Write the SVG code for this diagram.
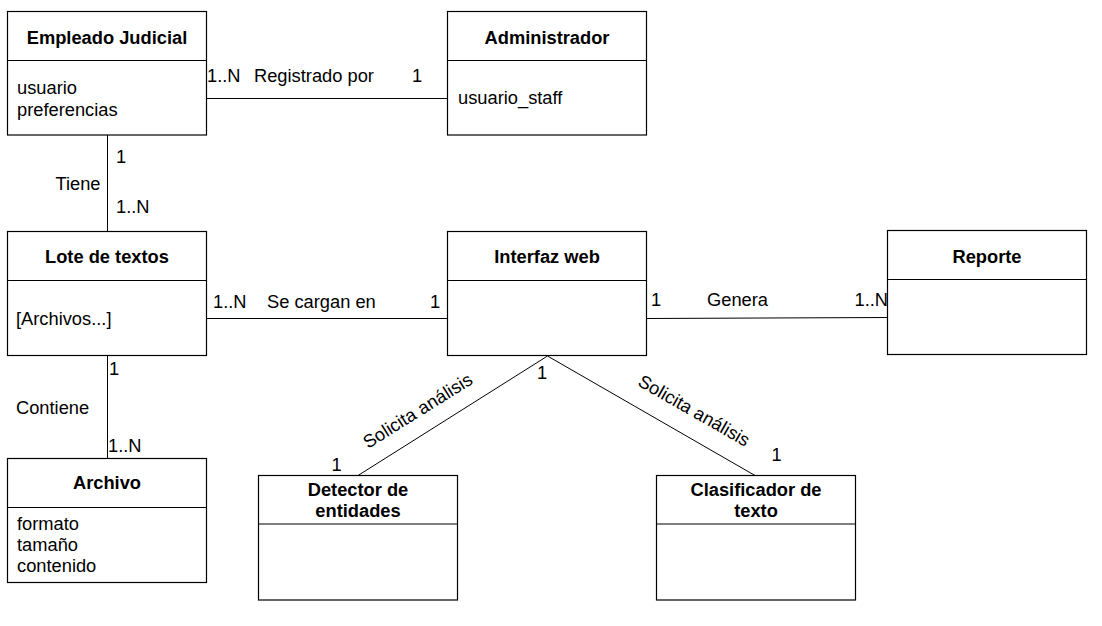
<svg xmlns="http://www.w3.org/2000/svg" width="1102" height="626" viewBox="0 0 1102 626">
<style>
.box{fill:#fff;stroke:#000;stroke-width:1.2}
.div{stroke:#000;stroke-width:1.2}
.conn line{stroke:#000;stroke-width:1}
text{font-family:"Liberation Sans",Arial,sans-serif;font-size:18.3px;fill:#000}
.h{font-weight:bold;text-anchor:middle}
.m{text-anchor:middle}
</style>
<rect width="1102" height="626" fill="#fff"/>
<g id="connectors" class="conn">
<line x1="206.5" y1="98.5" x2="447.5" y2="98.5"/>
<line x1="107.5" y1="135" x2="107.5" y2="231.5"/>
<line x1="206.5" y1="318.5" x2="447.5" y2="318.5"/>
<line x1="647" y1="318.5" x2="887.5" y2="317.5"/>
<line x1="107.5" y1="355.5" x2="107.5" y2="458.5"/>
<line x1="547.5" y1="356" x2="358" y2="475.5"/>
<line x1="547.5" y1="356" x2="755" y2="475.5"/>
</g>
<g id="labels">
<text x="207" y="82">1..N</text>
<text x="254" y="82">Registrado por</text>
<text x="412" y="82">1</text>
<text x="116" y="163">1</text>
<text x="100.5" y="190" text-anchor="end">Tiene</text>
<text x="116" y="213">1..N</text>
<text x="213" y="308">1..N</text>
<text x="267" y="308">Se cargan en</text>
<text x="430" y="308">1</text>
<text x="651" y="306">1</text>
<text x="707" y="306">Genera</text>
<text x="888" y="306" text-anchor="end">1..N</text>
<text x="109" y="375">1</text>
<text x="16" y="413.5">Contiene</text>
<text x="108" y="452">1..N</text>
<text x="537" y="378.5">1</text>
<text x="331.5" y="471">1</text>
<text x="771.5" y="461">1</text>
<text class="m" transform="translate(421,416) rotate(-32)">Solicita análisis</text>
<text class="m" transform="translate(691,416) rotate(29.7)">Solicita análisis</text>
</g>
<g id="empleado">
<rect class="box" x="7.5" y="11.5" width="199" height="123.5"/>
<line class="div" x1="7.5" y1="60.5" x2="206.5" y2="60.5"/>
<text class="h" x="107" y="43.5">Empleado Judicial</text>
<text x="17" y="94">usuario</text>
<text x="17" y="115.5">preferencias</text>
</g>
<g id="administrador">
<rect class="box" x="447.5" y="11.5" width="199" height="123.5"/>
<line class="div" x1="447.5" y1="60.5" x2="646.5" y2="60.5"/>
<text class="h" x="547" y="43.5">Administrador</text>
<text x="458" y="104">usuario_staff</text>
</g>
<g id="lote">
<rect class="box" x="7.5" y="231.5" width="199" height="124"/>
<line class="div" x1="7.5" y1="280.5" x2="206.5" y2="280.5"/>
<text class="h" x="107" y="263">Lote de textos</text>
<text x="16" y="324.5">[Archivos...]</text>
</g>
<g id="interfaz">
<rect class="box" x="447.5" y="231.5" width="199" height="124"/>
<line class="div" x1="447.5" y1="280.5" x2="646.5" y2="280.5"/>
<text class="h" x="547" y="263">Interfaz web</text>
</g>
<g id="reporte">
<rect class="box" x="887.5" y="230.5" width="199" height="124"/>
<line class="div" x1="887.5" y1="279.5" x2="1086.5" y2="279.5"/>
<text class="h" x="987" y="262.5">Reporte</text>
</g>
<g id="archivo">
<rect class="box" x="7.5" y="458.5" width="199" height="124"/>
<line class="div" x1="7.5" y1="507.5" x2="206.5" y2="507.5"/>
<text class="h" x="107" y="489">Archivo</text>
<text x="17" y="530">formato</text>
<text x="17" y="551">tamaño</text>
<text x="17" y="572">contenido</text>
</g>
<g id="detector">
<rect class="box" x="258.5" y="475.5" width="199" height="124.5"/>
<line class="div" x1="258.5" y1="524" x2="457.5" y2="524"/>
<text class="h" x="358" y="495.5">Detector de</text>
<text class="h" x="358" y="517">entidades</text>
</g>
<g id="clasificador">
<rect class="box" x="656.5" y="475.5" width="199" height="124.5"/>
<line class="div" x1="656.5" y1="524" x2="855.5" y2="524"/>
<text class="h" x="756" y="495.5">Clasificador de</text>
<text class="h" x="756" y="517">texto</text>
</g>
</svg>
